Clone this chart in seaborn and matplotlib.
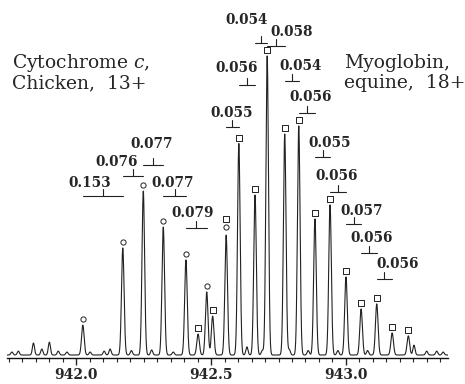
import numpy as np
import pandas as pd
import seaborn as sns
from matplotlib import pyplot as plt
from matplotlib.ticker import MultipleLocator, FormatStrFormatter

# Cytochrome c, chicken, 13+ (circles): m/z and relative intensity
cyt_mz = [942.025, 942.173, 942.249, 942.323, 942.407, 942.484, 942.556]
cyt_int = [10.0, 35.8, 54.8, 42.8, 31.8, 21.1, 22.0]

# Myoglobin, equine, 18+ (squares)
myo_mz = [942.452, 942.506, 942.556, 942.603, 942.663, 942.708, 942.773, 942.825,
          942.885, 942.941, 943.000, 943.056, 943.114, 943.171, 943.231]
myo_int = [7.0, 13.0, 18.1, 70.7, 53.5, 100.0, 73.9, 76.6,
           45.5, 50.2, 26.1, 15.4, 17.1, 7.4, 6.4]

# small baseline bumps
noise_mz = [941.762, 941.786, 941.842, 941.873, 941.901, 941.934, 941.966, 942.052,
            942.104, 942.126, 942.205, 942.280, 942.36, 942.633, 942.69, 942.79,
            942.86, 942.97, 943.08, 943.252, 943.299, 943.336, 943.36]
noise_int = [1.0, 1.3, 4.0, 2.0, 4.3, 1.3, 1.0, 1.0,
             1.3, 2.0, 1.5, 1.7, 1.0, 2.7, 1.5, 1.8,
             1.5, 1.5, 1.5, 3.3, 1.3, 1.3, 1.0]

cyt_labels = ["0.153", "0.076", "0.077", "0.077", "0.079"]
myo_labels = ["0.055", "0.056", "0.054", "0.058", "0.054", "0.056",
              "0.055", "0.056", "0.057", "0.056", "0.056"]

# layout of the spacing brackets: (peak i, peak j, bracket y, text x, text y)
cyt_ann = [(0, 1, 53.2, 942.052, 57.5), (1, 2, 59.9, 942.152, 64.5),
           (2, 3, 63.5, 942.281, 70.6), (3, 4, 53.2, 942.359, 57.5),
           (4, 5, 42.5, 942.430, 47.5)]
myo_ann = [(2, 3, 76.3, 942.576, 80.9), (3, 4, 90.3, 942.594, 96.0),
           (4, 5, 104.3, 942.633, 112.0), (5, 6, 103.3, 942.800, 108.0),
           (6, 7, 91.6, 942.830, 96.7), (7, 8, 80.9, 942.870, 86.3),
           (8, 9, 66.2, 942.941, 70.9), (9, 10, 54.5, 942.965, 59.9),
           (10, 11, 43.8, 943.057, 48.2), (11, 12, 34.1, 943.094, 39.1),
           (12, 13, 25.4, 943.191, 30.4)]

sns.set_style("white")
plt.rcParams['font.family'] = ['DejaVu Serif']
plt.rcParams['mathtext.fontset'] = 'dejavuserif'

# build the trace from the peak list
mz = np.linspace(941.744, 943.378, 5000)
trace = np.zeros_like(mz)
for m, h in zip(cyt_mz + myo_mz, cyt_int + myo_int):
    trace += h * np.exp(-0.5 * ((mz - m) / 0.0048) ** 2)
for m, h in zip(noise_mz, noise_int):
    trace += h * np.exp(-0.5 * ((mz - m) / 0.004) ** 2)
df = pd.DataFrame({"mz": mz, "intensity": trace})

fig = plt.figure(figsize=(4.65, 3.84), dpi=100)
ax = fig.add_axes([7 / 465, 26 / 384, 441 / 465, 358 / 384])
sns.lineplot(data=df, x="mz", y="intensity", color="#222222", lw=0.8, ax=ax)

cyt_top = np.interp(cyt_mz, mz, trace)
myo_top = np.interp(myo_mz, mz, trace)
shared = [m in cyt_mz for m in myo_mz]
circ_y = [t + (2.7 if m in myo_mz else 2.0) for m, t in zip(cyt_mz, cyt_top)]
sq_y = [t + (5.4 if s else 2.0) for t, s in zip(myo_top, shared)]
sns.scatterplot(x=cyt_mz, y=circ_y, marker="o", s=14, facecolor="white",
                edgecolor="#222222", linewidth=0.7, ax=ax)
sns.scatterplot(x=myo_mz, y=sq_y, marker="s", s=14, facecolor="white",
                edgecolor="#222222", linewidth=0.7, ax=ax)

num_font = dict(fontsize=9.8, fontweight="bold", ha="center", va="center")
for labels, ann, pos in [(cyt_labels, cyt_ann, cyt_mz), (myo_labels, myo_ann, myo_mz)]:
    for lab, (i, j, ly, tx, ty) in zip(labels, ann):
        x0, x1 = pos[i], pos[j]
        ax.plot([x0, x1], [ly, ly], color="#222222", lw=0.8)
        mid = (x0 + x1) / 2
        ax.plot([mid, mid], [ly, ly + 2.4], color="#222222", lw=0.8)
        ax.text(tx, ty, lab, **num_font)

fig.text(12 / 465, (384 - 68) / 384, "Cytochrome $c$,", fontsize=13.5, va="baseline")
fig.text(12 / 465, (384 - 88) / 384, "Chicken,  13+", fontsize=13.5, va="baseline")
fig.text(344 / 465, (384 - 68) / 384, "Myoglobin,", fontsize=13.5, va="baseline")
fig.text(344 / 465, (384 - 88) / 384, "equine,  18+", fontsize=13.5, va="baseline")

ax.set_xlim(941.744, 943.378)
ax.set_ylim(-1.0, 118.7)
ax.set_yticks([])
ax.set_xlabel("")
ax.set_ylabel("")
for side in ["left", "right", "top"]:
    ax.spines[side].set_visible(False)
ax.spines["bottom"].set_linewidth(1.0)
ax.spines["bottom"].set_color("#111111")
ax.xaxis.set_major_locator(MultipleLocator(0.5))
ax.xaxis.set_minor_locator(MultipleLocator(0.05))
ax.xaxis.set_major_formatter(FormatStrFormatter("%.1f"))
ax.tick_params(axis="x", which="major", length=5, width=1.0, direction="out",
               bottom=True, pad=2, labelsize=10)
ax.tick_params(axis="x", which="minor", length=3, width=0.8, direction="out", bottom=True)
for t in ax.get_xticklabels():
    t.set_fontweight("bold")
ax.patch.set_alpha(0)

plt.savefig("out.png", dpi=100)
